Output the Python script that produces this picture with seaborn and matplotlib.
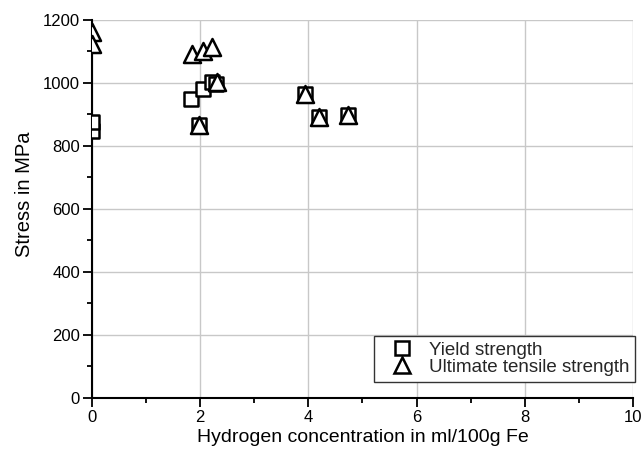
import matplotlib
matplotlib.use("Agg")
import matplotlib.pyplot as plt
import seaborn as sns
import pandas as pd
from matplotlib.ticker import MultipleLocator
from matplotlib.lines import Line2D

sns.set_theme(style="white")
plt.rcParams['font.family'] = ['Liberation Sans', 'DejaVu Sans']

# Yield strength
ys_h = [0.0, 0.0, 1.83, 2.05, 2.22, 2.30, 1.99, 3.94, 4.19, 4.73]
ys_v = [848, 875, 948, 981, 1003, 996, 866, 964, 892, 898]
# Ultimate tensile strength
uts_h = [0.0, 0.0, 1.845, 2.06, 2.23, 2.32, 1.99, 3.94, 4.19, 4.73]
uts_v = [1161, 1123, 1092, 1100, 1113, 1002, 866, 966, 892, 897]

df_y = pd.DataFrame({"h": ys_h, "s": ys_v})
df_u = pd.DataFrame({"h": uts_h, "s": uts_v})

fig = plt.figure(figsize=(6.44, 4.54), dpi=100)
ax = fig.add_axes([0.1424, 0.124, 0.8406, 0.832])

sns.scatterplot(data=df_y, x="h", y="s", marker="s", s=100, facecolor="white",
                edgecolor="black", linewidth=1.8, ax=ax, zorder=3, clip_on=True)
sns.scatterplot(data=df_u, x="h", y="s", marker="^", s=150, facecolor="white",
                edgecolor="black", linewidth=1.8, ax=ax, zorder=4, clip_on=True)

ax.set_xlim(0, 10)
ax.set_ylim(0, 1200)
ax.xaxis.set_major_locator(MultipleLocator(2))
ax.xaxis.set_minor_locator(MultipleLocator(1))
ax.yaxis.set_major_locator(MultipleLocator(200))
ax.yaxis.set_minor_locator(MultipleLocator(100))
ax.grid(True, which="major", color="#c8c8c8", linewidth=1.0)
ax.set_axisbelow(True)
for side in ["top", "right"]:
    ax.spines[side].set_visible(False)
for side in ["left", "bottom"]:
    ax.spines[side].set_color("black")
    ax.spines[side].set_linewidth(1.5)
ax.tick_params(which="major", direction="out", length=6.5, width=1.3, color="black",
               labelsize=12, labelcolor="black", bottom=True, left=True, pad=2)
ax.tick_params(which="minor", direction="out", length=3.5, width=1.3, color="black",
               bottom=True, left=True)
ax.set_xlabel("Hydrogen concentration in ml/100g Fe", fontsize=14, color="black", labelpad=3)
ax.set_ylabel("Stress in MPa", fontsize=14.5, color="black")
ax.yaxis.set_label_coords(-0.107, 0.539)

handles = [
    Line2D([], [], marker="s", linestyle="none", markersize=10, markerfacecolor="white",
           markeredgecolor="black", markeredgewidth=1.8),
    Line2D([], [], marker="^", linestyle="none", markersize=12, markerfacecolor="white",
           markeredgecolor="black", markeredgewidth=1.8),
]
leg = ax.legend(handles, ["Yield strength", "Ultimate tensile strength"],
                loc="lower right", bbox_to_anchor=(1.004, 0.041), borderaxespad=0,
                fontsize=13.5, frameon=True, fancybox=False, handlelength=2.33,
                handletextpad=0.23, borderpad=0.33, labelspacing=0.0)
leg.get_frame().set_edgecolor("#333333")
leg.get_frame().set_linewidth(1.0)
leg.get_frame().set_alpha(1)

fig.savefig("out.png", dpi=100)
